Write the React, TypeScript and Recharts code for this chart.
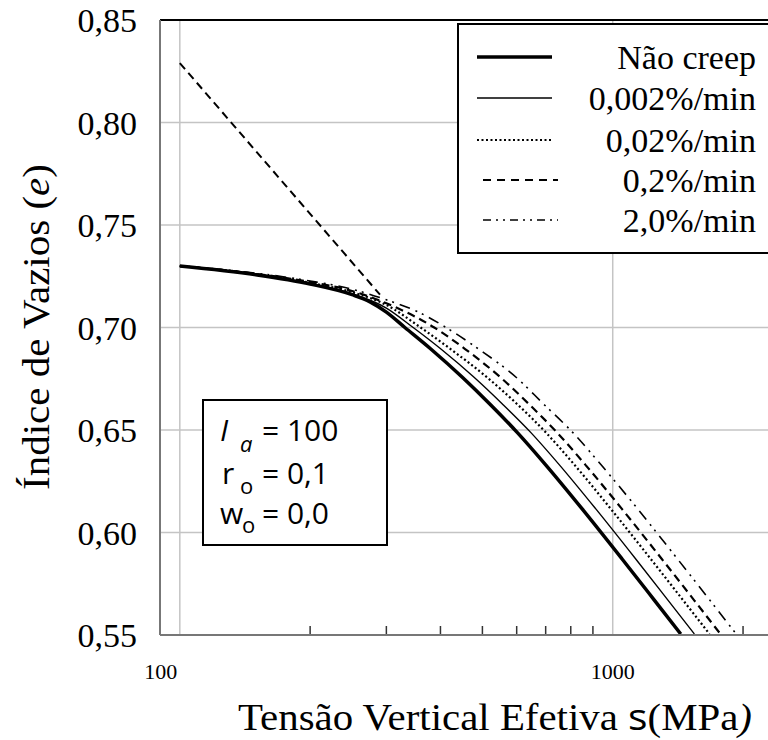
import React from "react";
import { LineChart, Line, XAxis, YAxis, CartesianGrid, ReferenceLine } from "recharts";

// tensão vertical efetiva e índice de vazios
const sigmaNoCreep = [100, 150, 200, 250, 275, 300, 331, 380, 450, 520, 603, 700, 850, 1050, 1250, 1436];
const eNoCreep = [0.73, 0.7257, 0.7212, 0.716, 0.7125, 0.7075, 0.7, 0.6895, 0.6756, 0.6627, 0.6486, 0.633, 0.6115, 0.5872, 0.5668, 0.5505];

const sigma0002 = [100, 150, 200, 250, 300, 346, 401, 479, 556, 648, 753, 914, 1129, 1344, 1544];
const e0002 = [0.73, 0.7257, 0.7213, 0.7165, 0.7095, 0.7, 0.6895, 0.6756, 0.6627, 0.6486, 0.633, 0.6115, 0.5872, 0.5668, 0.5505];

const sigma002 = [100, 150, 200, 250, 300, 360, 422, 513, 601, 702, 816, 990, 1223, 1456, 1673];
const e002 = [0.73, 0.726, 0.7218, 0.7172, 0.711, 0.7, 0.6895, 0.6756, 0.6627, 0.6486, 0.633, 0.6115, 0.5872, 0.5668, 0.5505];

const sigma02 = [100, 150, 200, 250, 300, 387, 456, 551, 640, 745, 865, 1050, 1297, 1544, 1773];
const e02 = [0.73, 0.7262, 0.7222, 0.7178, 0.7118, 0.7, 0.6895, 0.6756, 0.6627, 0.6486, 0.633, 0.6115, 0.5872, 0.5668, 0.5505];

const sigma20 = [100, 150, 200, 250, 300, 360, 412, 490, 599, 692, 810, 940, 1142, 1410, 1679, 1929];
const e20 = [0.73, 0.7265, 0.7227, 0.7187, 0.7135, 0.707, 0.7, 0.6895, 0.6756, 0.6627, 0.6486, 0.633, 0.6115, 0.5872, 0.5668, 0.5505];

// reta de compressão virgem (tracejada)
const sigmaNcl = [100, 290];
const eNcl = [0.829, 0.716];

const xTicks = [100, 200, 300, 400, 500, 600, 700, 800, 900, 1000, 2000];
const xLabelTicks = [100, 1000];
const yTicks = [0.55, 0.6, 0.65, 0.7, 0.75, 0.8, 0.85];

const toPoints = (s: number[], e: number[]) => s.map((v, i) => ({ s: v, e: e[i] }));

const series = [
  { name: "Não creep", data: toPoints(sigmaNoCreep, eNoCreep), width: 3.5, dash: undefined as string | undefined },
  { name: "0,002%/min", data: toPoints(sigma0002, e0002), width: 1.4, dash: undefined },
  { name: "0,02%/min", data: toPoints(sigma002, e002), width: 2.2, dash: "2 2.5" },
  { name: "0,2%/min", data: toPoints(sigma02, e02), width: 2.2, dash: "8 5" },
  { name: "2,0%/min", data: toPoints(sigma20, e20), width: 1.6, dash: "11 6 2 5 2 6" },
];

const legendDash = [undefined, undefined, "2 2.5", "8 6", "8 5 2 5 2 5"];
const legendRows = [57, 98, 140, 180, 220];

const serif = "'Liberation Serif', 'Times New Roman', serif";
const sans = "'Open Sans', 'DejaVu Sans', sans-serif";

function XTick(props: any) {
  const { x, y, payload } = props;
  const v = payload.value;
  if (xLabelTicks.includes(v)) {
    return (
      <text x={x + (v === 100 ? -19 : 0)} y={y + 44} textAnchor="middle" fontSize={22} fontFamily={serif} fill="#000">
        {v}
      </text>
    );
  }
  return <line x1={x} x2={x} y1={y - 1} y2={y - 9} stroke="#333" strokeWidth={1.5} />;
}

export default function App() {
  return (
    <div style={{ position: "fixed", left: 0, top: 0, width: 768, height: 740, overflow: "hidden", background: "#fff" }}>
      <LineChart width={798} height={740} margin={{ top: 20, right: 13, left: 0, bottom: 0 }}>
        <CartesianGrid vertical={false} stroke="#c4c4c4" strokeWidth={1.5} />
        <ReferenceLine x={100} stroke="#c4c4c4" strokeWidth={1.5} />
        <ReferenceLine x={1000} stroke="#c4c4c4" strokeWidth={1.5} />
        <ReferenceLine y={0.85} stroke="#000" strokeWidth={2} />
        <XAxis
          dataKey="s"
          type="number"
          scale="log"
          domain={[90, 2500]}
          allowDataOverflow
          ticks={xTicks}
          interval={0}
          tickSize={0}
          tickMargin={0}
          tickLine={false}
          tick={<XTick />}
          axisLine={{ stroke: "#777", strokeWidth: 2 }}
          height={105}
        />
        <YAxis
          type="number"
          domain={[0.55, 0.85]}
          allowDataOverflow
          ticks={yTicks}
          interval={0}
          tickFormatter={(v: number) => v.toFixed(2).replace(".", ",")}
          tick={{ fontSize: 34, fontFamily: serif, fill: "#000" }}
          tickLine={false}
          tickSize={0}
          tickMargin={23}
          axisLine={{ stroke: "#777", strokeWidth: 2 }}
          width={160}
        />
        <Line
          data={toPoints(sigmaNcl, eNcl)}
          dataKey="e"
          type="linear"
          stroke="#000"
          strokeWidth={2}
          strokeDasharray="8 5"
          dot={false}
          activeDot={false}
          legendType="none"
          isAnimationActive={false}
        />
        {series.map((s) => (
          <Line
            key={s.name}
            name={s.name}
            data={s.data}
            dataKey="e"
            type="monotone"
            stroke="#000"
            strokeWidth={s.width}
            strokeDasharray={s.dash}
            dot={false}
            activeDot={false}
            isAnimationActive={false}
          />
        ))}
      </LineChart>

      {/* títulos dos eixos */}
      <svg width={768} height={740} style={{ position: "absolute", left: 0, top: 0, pointerEvents: "none" }}>
        <text
          transform="translate(49, 327) rotate(-90)"
          textAnchor="middle"
          fontSize={38}
          fontFamily={serif}
          textLength={326}
          lengthAdjust="spacingAndGlyphs"
        >
          Índice de Vazios  (<tspan fontStyle="italic">e</tspan>)
        </text>
        <text x={238} y={730} fontSize={37} fontFamily={serif} textLength={514} lengthAdjust="spacingAndGlyphs">
          Tensão Vertical Efetiva <tspan fontFamily={sans}>s</tspan>(MPa<tspan fontStyle="italic">)</tspan>
        </text>
      </svg>

      {/* legenda */}
      <div
        style={{
          position: "absolute",
          left: 457,
          top: 23,
          width: 330,
          height: 231,
          border: "2px solid #000",
          background: "#fff",
          boxSizing: "border-box",
        }}
      >
        <svg width={330} height={231} style={{ position: "absolute", left: -2, top: -2 }}>
          {series.map((s, i) => {
            const cy = legendRows[i] - 23;
            return (
              <g key={s.name}>
                <line
                  x1={i >= 3 ? 26 : 20}
                  x2={i >= 3 ? 101 : 95}
                  y1={cy}
                  y2={cy}
                  stroke="#000"
                  strokeWidth={s.width}
                  strokeDasharray={legendDash[i]}
                />
                <text x={299} y={cy} textAnchor="end" dominantBaseline="central" fontSize={34} fontFamily={serif}>
                  {s.name}
                </text>
              </g>
            );
          })}
        </svg>
      </div>

      {/* parâmetros */}
      <div
        style={{
          position: "absolute",
          left: 202,
          top: 399,
          width: 186,
          height: 147,
          border: "2px solid #000",
          background: "#fff",
          boxSizing: "border-box",
        }}
      >
        <svg width={186} height={147} style={{ position: "absolute", left: -2, top: -2 }} fontFamily={sans} fontSize={30}>
          <text x={18} y={42} fontStyle="italic">I</text>
          <text x={38} y={53} fontSize={22} fontStyle="italic">a</text>
          <text x={60} y={42}>= 100</text>
          <text x={20} y={85}>r</text>
          <text x={38} y={95} fontSize={22}>o</text>
          <text x={60} y={85}>= 0,1</text>
          <text x={18} y={125}>w</text>
          <text x={40} y={134} fontSize={22}>o</text>
          <text x={60} y={125}>= 0,0</text>
        </svg>
      </div>
    </div>
  );
}
